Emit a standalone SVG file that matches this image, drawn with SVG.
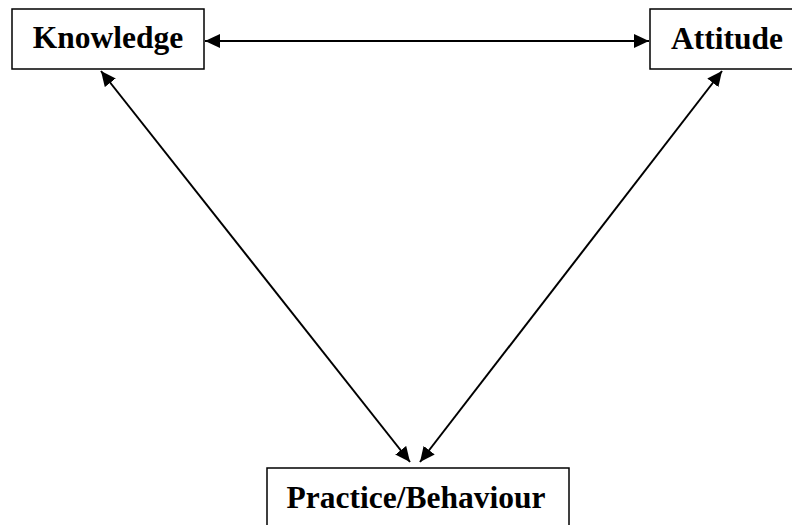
<svg xmlns="http://www.w3.org/2000/svg" width="792" height="525" viewBox="0 0 792 525">
<style>
.box{fill:#fff;stroke:#000;stroke-width:1.5}
.lbl{font-family:"Liberation Serif","Times New Roman",serif;font-weight:bold;font-size:31.5px;fill:#000}
.conn{stroke:#000;stroke-width:2;fill:none;marker-start:url(#ah);marker-end:url(#ah)}
</style>
<defs>
<marker id="ah" markerUnits="userSpaceOnUse" markerWidth="16" markerHeight="14" refX="15" refY="7" orient="auto-start-reverse">
<path d="M0,0 L15,7 L0,14 Z" fill="#000"/>
</marker>
</defs>
<rect width="792" height="525" fill="#fff"/>
<g id="connectors">
<line class="conn" x1="205" y1="41" x2="649" y2="41"/>
<line class="conn" x1="101" y1="71" x2="410" y2="462"/>
<line class="conn" x1="722" y1="71" x2="420" y2="462"/>
</g>
<g id="knowledge">
<rect class="box" x="12" y="9" width="192" height="60"/>
<text class="lbl" x="108" y="48" text-anchor="middle">Knowledge</text>
</g>
<g id="attitude">
<rect class="box" x="650" y="9" width="160" height="60"/>
<text class="lbl" x="671" y="49">Attitude</text>
</g>
<g id="practice">
<rect class="box" x="267" y="468" width="302" height="80"/>
<text class="lbl" x="416" y="508" text-anchor="middle">Practice/Behaviour</text>
</g>
</svg>
